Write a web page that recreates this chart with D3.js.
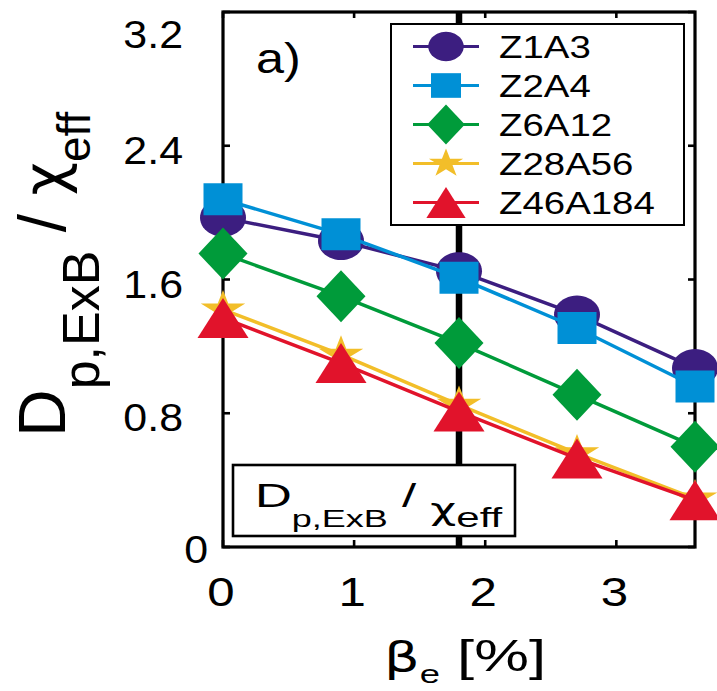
<!DOCTYPE html>
<html>
<head>
<meta charset="utf-8">
<script src="https://cdn.jsdelivr.net/npm/d3@7"></script>
<style>
  body { margin: 0; background: #fff; }
  svg { display: block; }
  text { font-family: "Liberation Sans", Arial, Helvetica, sans-serif; fill: #000; }
  .greek { font-family: "DejaVu Sans", "Noto Sans", sans-serif; }
</style>
</head>
<body>
<svg id="chart" width="717" height="691"></svg>
<script>
// beta_e [%] sample points
const betaValues = [0, 0.9, 1.8, 2.7, 3.6];

// D_p,ExB / chi_eff for each impurity species
const seriesNames = ["Z1A3", "Z2A4", "Z6A12", "Z28A56", "Z46A184"];
const z1a3    = [1.97, 1.83, 1.65, 1.39, 1.07];
const z2a4    = [2.08, 1.87, 1.61, 1.31, 0.96];
const z6a12   = [1.755, 1.50, 1.22, 0.91, 0.60];
const z28a56  = [1.42, 1.15, 0.85, 0.56, 0.29];
const z46a184 = [1.37, 1.10, 0.81, 0.53, 0.28];

const xTicks = [0, 1, 2, 3];
const xTickLabels = ["0", "1", "2", "3"];
const yTicks = [0, 0.8, 1.6, 2.4, 3.2];
const yTickLabels = ["0", "0.8", "1.6", "2.4", "3.2"];

// reference beta marked with a vertical line
const markedBeta = 1.8;

const seriesColors = ["#3c1e80", "#0090d6", "#009b3a", "#f2be29", "#e1132b"];
const markerShapes = ["circle", "square", "diamond", "star", "triangle"];

const seriesValues = [z1a3, z2a4, z6a12, z28a56, z46a184];

const svg = d3.select("#chart");

const x = d3.scaleLinear().domain([0, 3.6]).range([223, 695]);
const y = d3.scaleLinear().domain([0, 3.2]).range([547, 12]);

// marker outlines, centred on the origin (k scales the size)
function markerPath(shape, k) {
  const p = d3.path();
  if (shape === "circle") {
    const rx = 23 * k, ry = 19 * k, n = 48;
    for (let i = 0; i <= n; i++) {
      const a = 2 * Math.PI * i / n;
      const px = rx * Math.cos(a), py = ry * Math.sin(a);
      i ? p.lineTo(px, py) : p.moveTo(px, py);
    }
    p.closePath();
  } else if (shape === "square") {
    const w = 39 * k, h = 32 * k;
    p.rect(-w / 2, -h / 2, w, h);
  } else if (shape === "diamond") {
    const w = 49 * k, h = 52 * k;
    p.moveTo(0, -h / 2); p.lineTo(w / 2, 0); p.lineTo(0, h / 2); p.lineTo(-w / 2, 0); p.closePath();
  } else if (shape === "star") {
    const R = 19.5 * k, r = R * 0.382;
    for (let i = 0; i < 10; i++) {
      const a = -Math.PI / 2 + i * Math.PI / 5;
      const rr = i % 2 ? r : R;
      const px = rr * Math.cos(a) * 1.2, py = rr * Math.sin(a);
      i ? p.lineTo(px, py) : p.moveTo(px, py);
    }
    p.closePath();
  } else if (shape === "triangle") {
    const w = 51 * k, h = 40 * k;
    p.moveTo(0, -h / 2); p.lineTo(w / 2, h / 2); p.lineTo(-w / 2, h / 2); p.closePath();
  }
  return p.toString();
}

// text drawn with a horizontal stretch
function wideText(parent, tx, ty, sx, size, anchor) {
  return parent.append("text")
    .attr("transform", `translate(${tx},${ty}) scale(${sx},1)`)
    .attr("font-size", size)
    .attr("text-anchor", anchor || "start");
}

const [x0, x1] = x.range();
const [yb, yt] = y.range();

// vertical marker line at the reference beta
svg.append("line")
  .attr("x1", x(markedBeta)).attr("x2", x(markedBeta))
  .attr("y1", yt).attr("y2", yb)
  .attr("stroke", "#000").attr("stroke-width", 6.5);

// axes frame
svg.append("rect")
  .attr("x", x0).attr("y", yt).attr("width", x1 - x0).attr("height", yb - yt)
  .attr("fill", "none").attr("stroke", "#000").attr("stroke-width", 3.2);

// inward tick marks on all four sides
const tickLen = 7;
const ticks = svg.append("g").attr("stroke", "#000").attr("stroke-width", 2.6);
ticks.selectAll("line.xb").data(xTicks).join("line")
  .attr("x1", d => x(d)).attr("x2", d => x(d)).attr("y1", yb).attr("y2", yb - tickLen);
ticks.selectAll("line.xt").data(xTicks).join("line")
  .attr("x1", d => x(d)).attr("x2", d => x(d)).attr("y1", yt).attr("y2", yt + tickLen - 1);
ticks.selectAll("line.yl").data(yTicks).join("line")
  .attr("x1", x0).attr("x2", x0 + tickLen).attr("y1", d => y(d)).attr("y2", d => y(d));
ticks.selectAll("line.yr").data(yTicks).join("line")
  .attr("x1", x1).attr("x2", x1 - tickLen).attr("y1", d => y(d)).attr("y2", d => y(d));

// tick labels
xTicks.forEach((t, i) => {
  wideText(svg, x(t) - 2, 606, 1.2, 41, "middle").text(xTickLabels[i]);
});
yTicks.forEach((t, i) => {
  let by = Math.max(y(t) + 18, yt + 36);
  let ax = 183;
  if (t === 0) { ax = 208; by = y(t) + 16; }
  wideText(svg, ax, by, 1.1, 39, "end").text(yTickLabels[i]);
});

// data series: line first, then markers
const line = d3.line().x(d => x(d.b)).y(d => y(d.v));
seriesValues.forEach((vals, s) => {
  const pts = betaValues.map((b, i) => ({ b, v: vals[i] }));
  const g = svg.append("g");
  g.append("path").datum(pts).attr("d", line)
    .attr("fill", "none").attr("stroke", seriesColors[s]).attr("stroke-width", 3.5);
  g.selectAll("path.m").data(pts).join("path")
    .attr("class", "m")
    .attr("transform", d => `translate(${x(d.b)},${y(d.v)})`)
    .attr("d", markerPath(markerShapes[s], 1))
    .attr("fill", seriesColors[s]);
});

// panel tag
wideText(svg, 256, 73, 1.2, 42).text("a)");

// legend
const legend = svg.append("g");
legend.append("rect")
  .attr("x", 391).attr("y", 24).attr("width", 293).attr("height", 201)
  .attr("fill", "#fff").attr("stroke", "#000").attr("stroke-width", 2);
const rowY = d3.scalePoint().domain(seriesNames).range([46.5, 202.5]);
seriesNames.forEach((name, s) => {
  const cy = rowY(name);
  legend.append("line").attr("x1", 413).attr("x2", 479).attr("y1", cy).attr("y2", cy)
    .attr("stroke", seriesColors[s]).attr("stroke-width", 3.2);
  legend.append("path").attr("transform", `translate(446,${cy})`)
    .attr("d", markerPath(markerShapes[s], 0.77)).attr("fill", seriesColors[s]);
  wideText(legend, 499, cy + 11.5, 1.2, 32).text(name);
});

// annotation box with the plotted quantity
const note = svg.append("g");
note.append("rect")
  .attr("x", 233).attr("y", 465).attr("width", 282).attr("height", 71)
  .attr("fill", "#fff").attr("stroke", "#000").attr("stroke-width", 2.6);
const nt = wideText(note, 255, 507, 1.5, 34);
nt.append("tspan").text("D");
nt.append("tspan").attr("font-size", 24).attr("dy", 20).text("p,ExB");
nt.append("tspan").attr("dy", -20).text(" / ");
nt.append("tspan").attr("class", "greek").attr("font-size", 30).attr("dy", 13).text("χ");
nt.append("tspan").attr("font-size", 28).attr("dy", 7).text("eff");

// x-axis title
const xt = wideText(svg, 384, 671, 1.4, 44);
xt.append("tspan").attr("class", "greek").attr("font-size", 40).text("β");
xt.append("tspan").attr("font-size", 26).attr("dy", 12).text("e");
xt.append("tspan").attr("dy", -12).text(" [%]");

// y-axis title
const yl = svg.append("text")
  .attr("transform", "translate(65,437) rotate(-90)")
  .attr("font-size", 66);
yl.append("tspan").text("D");
yl.append("tspan").attr("font-size", 52).attr("dy", 34).text("p,ExB");
yl.append("tspan").attr("dy", -34).text(" / ");
yl.append("tspan").attr("class", "greek").attr("font-size", 58).text("χ");
yl.append("tspan").attr("font-size", 46).attr("dy", 25).text("eff");
</script>
</body>
</html>
